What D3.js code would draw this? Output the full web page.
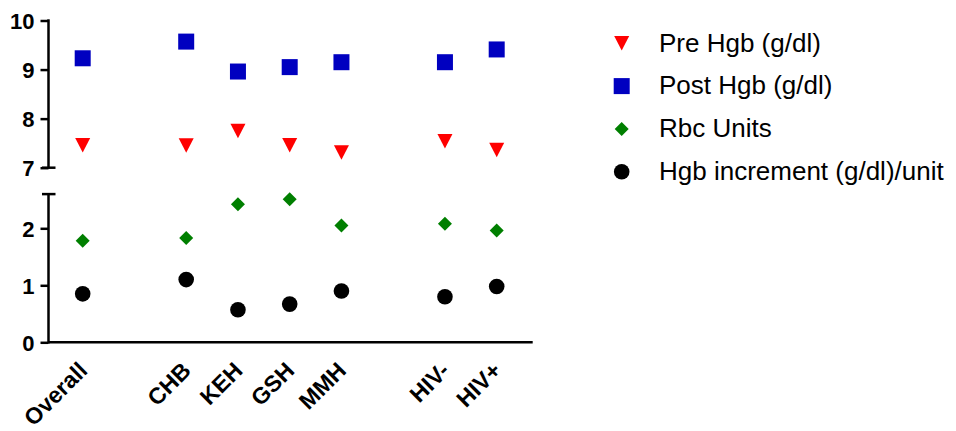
<!DOCTYPE html>
<html>
<head>
<meta charset="utf-8">
<script src="https://cdn.jsdelivr.net/npm/d3@7/dist/d3.min.js"></script>
<style>
  html, body { margin: 0; padding: 0; background: #fff; }
  svg { display: block; }
  text { font-family: "Liberation Sans", Arial, sans-serif; }
</style>
</head>
<body>
<svg id="chart" width="956" height="431"></svg>
<script>
// ---- data ----
const categories = ["Overall", "CHB", "KEH", "GSH", "MMH", "HIV-", "HIV+"];
const slots = ["Overall", "_gap1", "CHB", "KEH", "GSH", "MMH", "_gap2", "HIV-", "HIV+"];
const preHgb   = [7.46, 7.45, 7.75, 7.46, 7.31, 7.54, 7.36];
const postHgb  = [9.23, 9.57, 8.96, 9.05, 9.15, 9.15, 9.41];
const rbcUnits = [1.78, 1.83, 2.42, 2.51, 2.05, 2.08, 1.96];
const hgbIncr  = [0.85, 1.10, 0.57, 0.67, 0.90, 0.80, 0.98];
const upperTicks = [7, 8, 9, 10];
const lowerTicks = [0, 1, 2];
const seriesNames = ["Pre Hgb (g/dl)", "Post Hgb (g/dl)", "Rbc Units", "Hgb increment (g/dl)/unit"];

// ---- layout ----
const svg = d3.select("#chart");
const axisX = 48.5, axisRight = 532.7;
const x = d3.scalePoint().domain(slots).range([82.7, 496.7]);
const yUp = d3.scaleLinear().domain([7, 10]).range([167.7, 20.5]);
const yLo = d3.scaleLinear().domain([0, 2.6]).range([342.3, 194.1]);

const series = [
  { name: seriesNames[0], values: preHgb,   y: yUp, shape: "tri",     color: "#ff0000" },
  { name: seriesNames[1], values: postHgb,  y: yUp, shape: "square",  color: "#0000c0" },
  { name: seriesNames[2], values: rbcUnits, y: yLo, shape: "diamond", color: "#007f00" },
  { name: seriesNames[3], values: hgbIncr,  y: yLo, shape: "circle",  color: "#000000" }
];

function drawMarker(g, shape, color, cx, cy) {
  if (shape === "square") {
    g.append("rect").attr("x", cx - 8).attr("y", cy - 8).attr("width", 16).attr("height", 16).attr("fill", color);
  } else if (shape === "tri") {
    const w = 15, h = 14.5;
    g.append("path").attr("d", `M${cx - w/2},${cy - h/2}L${cx + w/2},${cy - h/2}L${cx},${cy + h/2}Z`).attr("fill", color);
  } else if (shape === "diamond") {
    const r = 7;
    g.append("path").attr("d", `M${cx},${cy - r}L${cx + r},${cy}L${cx},${cy + r}L${cx - r},${cy}Z`).attr("fill", color);
  } else {
    g.append("circle").attr("cx", cx).attr("cy", cy).attr("r", 7.8).attr("fill", color);
  }
}

// ---- axes ----
const axisG = svg.append("g");
const tickFont = "bold 22px 'Liberation Sans', Arial, sans-serif";
const xLabFont = "bold 23px 'Liberation Sans', Arial, sans-serif";

function yAxis(scale, ticks) {
  const g = axisG.append("g").attr("transform", `translate(${axisX},0)`)
    .call(d3.axisLeft(scale).tickValues(ticks).tickSize(8).tickPadding(6).tickFormat(d3.format("d")));
  g.select(".domain").remove();
  g.selectAll(".tick line").attr("stroke", "#000").attr("stroke-width", 2.5);
  g.selectAll(".tick text").style("font", tickFont).attr("fill", "#000").attr("dy", "0.36em");
  return g;
}
yAxis(yUp, upperTicks);
yAxis(yLo, lowerTicks);

// vertical segments
axisG.append("line").attr("x1", axisX).attr("x2", axisX).attr("y1", yUp(10) - 1.2).attr("y2", yUp(7))
  .attr("stroke", "#000").attr("stroke-width", 2.5);
axisG.append("line").attr("x1", axisX).attr("x2", axisX).attr("y1", yLo(2.6)).attr("y2", yLo(0) + 1.2)
  .attr("stroke", "#000").attr("stroke-width", 2.5);
// break caps
axisG.append("line").attr("x1", axisX - 6.5).attr("x2", axisX + 7).attr("y1", yUp(7)).attr("y2", yUp(7))
  .attr("stroke", "#000").attr("stroke-width", 2.5);
axisG.append("line").attr("x1", axisX - 6.5).attr("x2", axisX + 7).attr("y1", yLo(2.6)).attr("y2", yLo(2.6))
  .attr("stroke", "#000").attr("stroke-width", 2.5);
// x axis line
axisG.append("line").attr("x1", axisX).attr("x2", axisRight).attr("y1", yLo(0)).attr("y2", yLo(0))
  .attr("stroke", "#000").attr("stroke-width", 2.5);

// x labels
axisG.selectAll("text.xlab").data(categories).enter().append("text")
  .attr("class", "xlab")
  .attr("transform", d => `translate(${x(d) + 6},${372}) rotate(-45)`)
  .attr("text-anchor", "end")
  .style("font", xLabFont)
  .attr("fill", "#000")
  .text(d => d);

// ---- points ----
const pts = svg.append("g");
series.forEach(s => {
  s.values.forEach((v, i) => {
    drawMarker(pts, s.shape, s.color, x(categories[i]), s.y(v));
  });
});

// ---- legend ----
const leg = svg.append("g");
series.forEach((s, i) => {
  const cy = 43.3 + i * 42.8;
  drawMarker(leg, s.shape, s.color, 621.7, cy);
  leg.append("text").attr("x", 659).attr("y", cy + 8.2)
    .style("font", "26px 'Liberation Sans', Arial, sans-serif")
    .attr("fill", "#000")
    .text(s.name);
});
</script>
</body>
</html>
